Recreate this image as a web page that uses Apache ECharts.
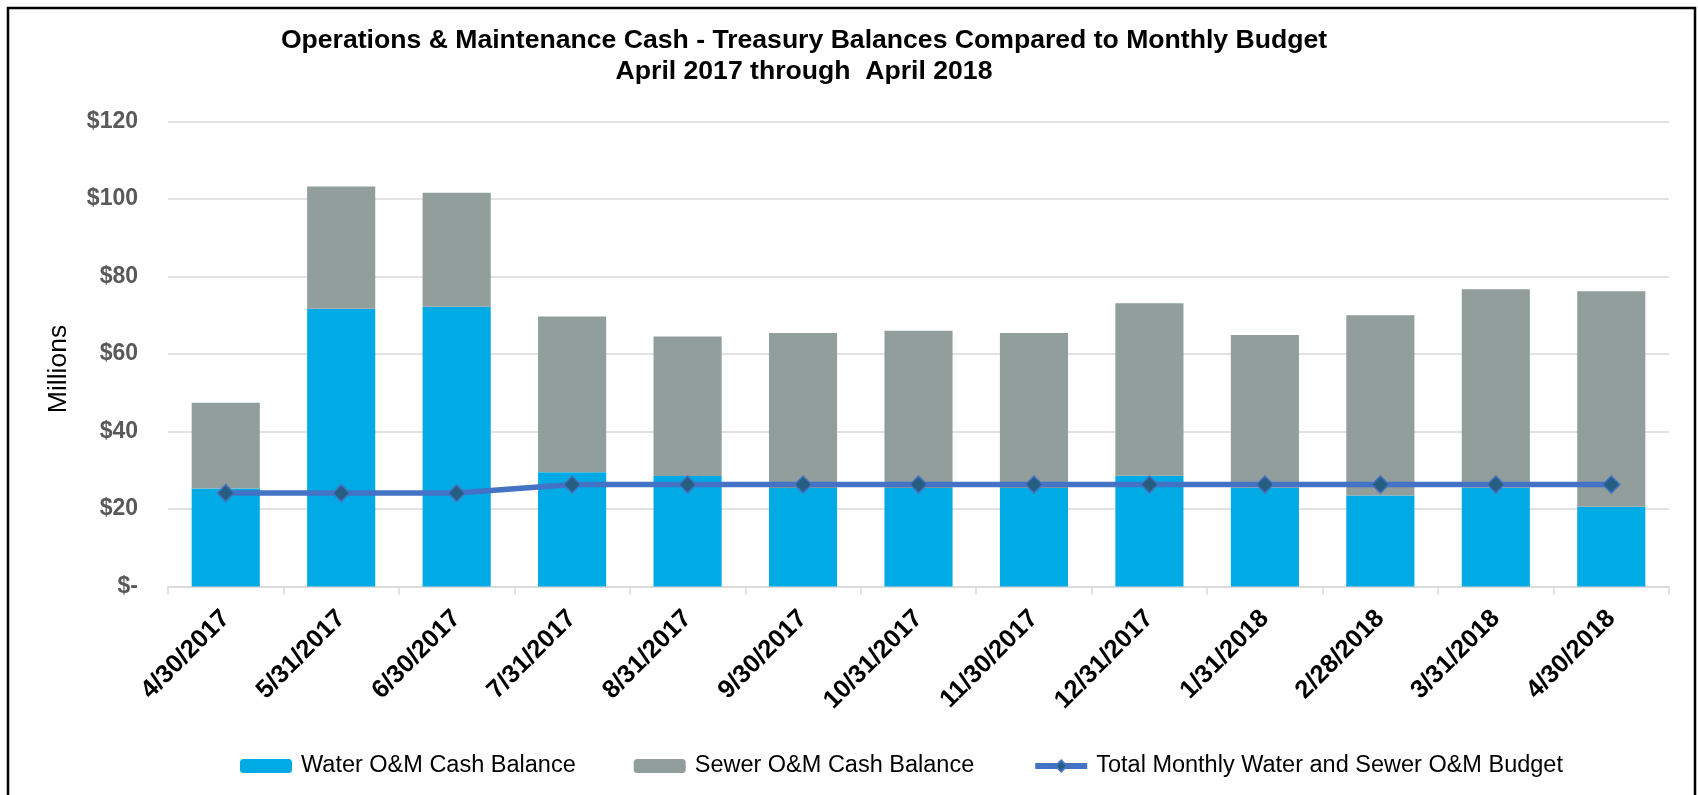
<!DOCTYPE html>
<html>
<head>
<meta charset="utf-8">
<script src="https://cdn.jsdelivr.net/npm/echarts@6/dist/echarts.min.js"></script>
<style>
  html, body { margin: 0; padding: 0; background: #fff; }
  #chart { width: 1698px; height: 795px; }
</style>
</head>
<body>
<div id="chart"></div>
<script>
// month-end dates
let months = ["4/30/2017", "5/31/2017", "6/30/2017", "7/31/2017", "8/31/2017", "9/30/2017",
  "10/31/2017", "11/30/2017", "12/31/2017", "1/31/2018", "2/28/2018", "3/31/2018", "4/30/2018"];
// $ millions
let waterCash = [25.3, 71.7, 72.2, 29.5, 28.5, 25.4, 25.4, 25.4, 28.6, 25.5, 23.5, 25.5, 20.6];
let sewerCash = [22.1, 31.5, 29.4, 40.2, 36.0, 40.0, 40.6, 40.0, 44.5, 39.4, 46.5, 51.2, 55.6];
let monthlyBudget = [24.1, 24.1, 24.1, 26.3, 26.3, 26.3, 26.3, 26.3, 26.3, 26.3, 26.3, 26.3, 26.3];

let font = "'Liberation Sans', Arial, sans-serif";

let myChart = echarts.init(document.getElementById("chart"));
let option = {
  animation: false,
  textStyle: { fontFamily: font },
  graphic: [
    {
      type: "rect",
      shape: { x: 8, y: 8, width: 1687, height: 800 },
      style: { fill: "none", stroke: "#000", lineWidth: 2.5 }
    },
    {
      type: "text",
      x: 804, y: 41,
      style: {
        text: "Operations & Maintenance Cash - Treasury Balances Compared to Monthly Budget",
        font: "bold 26.6px " + font, fill: "#000", align: "center", verticalAlign: "middle"
      }
    },
    {
      type: "text",
      x: 804, y: 72,
      style: {
        text: "April 2017 through  April 2018",
        font: "bold 26.6px " + font, fill: "#000", align: "center", verticalAlign: "middle"
      }
    }
  ],
  legend: {
    left: 235,
    top: 749,
    itemWidth: 52,
    itemHeight: 14,
    itemGap: 58,
    textStyle: { fontSize: 23.5, color: "#000", padding: [0, 0, 0, 4] },
    data: [
      "Water O&M Cash Balance",
      "Sewer O&M Cash Balance",
      { name: "Total Monthly Water and Sewer O&M Budget", lineStyle: { width: 6 } }
    ]
  },
  grid: { left: 168, right: 29, top: 121.5, bottom: 208.5 },
  xAxis: {
    type: "category",
    data: months,
    axisLine: { lineStyle: { color: "#d9d9d9", width: 1.5 } },
    axisTick: { show: true, length: 8, lineStyle: { color: "#d9d9d9", width: 1.5 } },
    axisLabel: {
      rotate: 45,
      margin: 28,
      interval: 0,
      fontSize: 25.5,
      fontWeight: "bold",
      color: "#000"
    }
  },
  yAxis: {
    type: "value",
    min: 0,
    max: 120,
    interval: 20,
    name: "Millions",
    nameLocation: "middle",
    nameRotate: 90,
    nameGap: 96,
    nameTextStyle: { fontSize: 26.5, color: "#000", padding: [0, 30, 0, 0] },
    axisLine: { show: false },
    axisTick: { show: false },
    axisLabel: {
      margin: 30,
      fontSize: 23,
      fontWeight: "bold",
      color: "#595959",
      formatter: (v) => (v === 0 ? "$-" : "$" + v)
    },
    splitLine: { lineStyle: { color: "#d9d9d9", width: 1.5 } }
  },
  series: [
    {
      type: "bar",
      name: "Water O&M Cash Balance",
      stack: "cash",
      data: waterCash,
      barCategoryGap: "41%",
      itemStyle: { color: "#00abe5" }
    },
    {
      type: "bar",
      name: "Sewer O&M Cash Balance",
      stack: "cash",
      data: sewerCash,
      barCategoryGap: "41%",
      itemStyle: { color: "#919e9c" }
    },
    {
      type: "line",
      name: "Total Monthly Water and Sewer O&M Budget",
      data: monthlyBudget,
      z: 5,
      symbol: "diamond",
      symbolSize: 17,
      lineStyle: { color: "#4472c4", width: 5.5 },
      itemStyle: { color: "#255e80", borderColor: "#4472c4", borderWidth: 1.5 }
    }
  ]
};
myChart.setOption(option);
</script>
</body>
</html>
